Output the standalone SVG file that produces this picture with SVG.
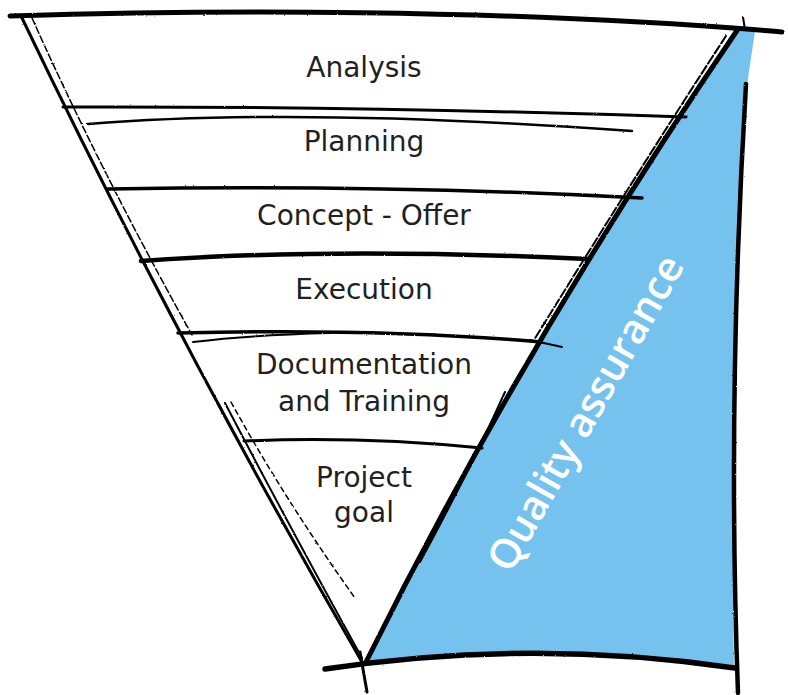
<svg xmlns="http://www.w3.org/2000/svg" width="788" height="695" viewBox="0 0 788 695">
  <defs>
    <filter id="rough" x="-5%" y="-5%" width="110%" height="110%">
      <feTurbulence type="fractalNoise" baseFrequency="0.9" numOctaves="1" seed="3" result="n"/>
      <feDisplacementMap in="SourceGraphic" in2="n" scale="2" xChannelSelector="R" yChannelSelector="G"/>
    </filter>
  </defs>
  <style>
    .ink { fill: none; stroke: #000; stroke-linecap: round; stroke-linejoin: round; }
    .label { font-family: "DejaVu Sans", "Liberation Sans", sans-serif; font-size: 28px; fill: #231f20; text-anchor: middle; }
    .qa { font-family: "Open Sans", "Liberation Sans", sans-serif; font-size: 41px; font-weight: 600; fill: #ffffff; text-anchor: middle; }
  </style>
  <rect width="788" height="695" fill="#ffffff"/>

  <!-- Quality assurance blue wedge -->
  <g id="quality-assurance">
    <path d="M738,29 L755,31 L747,85 Q729,400 734,665 Q530,640 366,662 Q522.5,346 738,29 Z" fill="#74c2ed"/>
    <text class="qa" transform="translate(598,420) rotate(-60.5)">Quality assurance</text>
  </g>

  <!-- funnel outline -->
  <g id="funnel-outline" filter="url(#rough)">
    <path class="ink" d="M10,16 C200,10 500,8 782,32" stroke-width="5"/>
    <path class="ink" d="M743,17 L745,30" stroke-width="2"/>
    <path class="ink" d="M22,18 Q176,340 362,662" stroke-width="3"/>
    <path class="ink" d="M360,652 L367,692" stroke-width="3"/>
    <path class="ink" d="M32,18 Q100,170 192,335" stroke-width="1.5" stroke-dasharray="7 3"/>
    <path class="ink" d="M225,403 Q286,520 362,658" stroke-width="2"/>
    <path class="ink" d="M231,402 Q285,500 355,598" stroke-width="1.5" stroke-dasharray="5 4"/>
    <path class="ink" d="M738,29 Q522.5,346 366,662" stroke-width="5"/>
    <path class="ink" d="M726,36 Q645,160 534,340" stroke-width="2" stroke-dasharray="9 3"/>
    <path class="ink" d="M505,392 Q470,470 420,562" stroke-width="2"/>
    <path class="ink" d="M746,84 Q727,400 738,693" stroke-width="4.5"/>
    <path class="ink" d="M325,669 Q530,638 735,668" stroke-width="5.5"/>
  </g>

  <!-- band separators -->
  <g id="separators" filter="url(#rough)">
    <path class="ink" d="M63,107 Q360,106 686,117" stroke-width="3"/>
    <path class="ink" d="M88,124 Q300,107 632,131" stroke-width="2.5"/>
    <path class="ink" d="M108,189 Q380,184 642,198" stroke-width="3.5"/>
    <path class="ink" d="M141,261 Q330,247 588,259" stroke-width="4.5"/>
    <path class="ink" d="M178,333 Q380,328 541,342" stroke-width="3.5"/>
    <path class="ink" d="M530,340 L562,347" stroke-width="2"/>
    <path class="ink" d="M193,342 Q250,335 330,333" stroke-width="2"/>
    <path class="ink" d="M244,441 Q360,436 482,448" stroke-width="3"/>
  </g>

  <g id="band-analysis"><text class="label" x="364" y="77">Analysis</text></g>
  <g id="band-planning"><text class="label" x="364" y="151">Planning</text></g>
  <g id="band-concept"><text class="label" x="364" y="225">Concept - Offer</text></g>
  <g id="band-execution"><text class="label" x="364" y="299">Execution</text></g>
  <g id="band-documentation"><text class="label" x="364" y="374">Documentation</text><text class="label" x="364" y="411">and Training</text></g>
  <g id="band-goal"><text class="label" x="364" y="487">Project</text><text class="label" x="364" y="522">goal</text></g>
</svg>
